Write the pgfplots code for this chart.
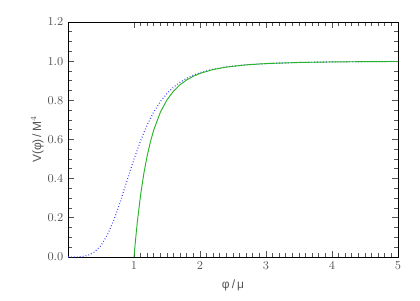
\documentclass[border=0pt]{standalone}
\usepackage{fontspec}
\setmainfont{Liberation Sans}
\usepackage{pgfplots}
\pgfplotsset{compat=1.18}
\definecolor{axgray}{RGB}{85,85,85}
\definecolor{potblue}{RGB}{70,70,255}
\definecolor{potgreen}{RGB}{40,180,40}
\begin{document}
\begin{tikzpicture}
\begin{axis}[
    name=main,
    scale only axis,
    width=247.5pt, height=176.25pt,
    xmin=0, xmax=5, ymin=0, ymax=1.2,
    xtick={1,2,3,4,5},
    ytick={0,0.2,0.4,0.6,0.8,1.0,1.2},
    yticklabel style={/pgf/number format/.cd,fixed,fixed zerofill,precision=1},
    minor x tick num=9,
    minor y tick num=3,
    tick style={axgray, line width=0.6pt},
    tick label style={font=\fontsize{9}{10}\selectfont, text=axgray},
    xlabel={φ\,/\,μ},
    ylabel={V(φ)\,/\,M$^4$},
    label style={font=\fontsize{9}{10}\selectfont, text=axgray},
    xlabel style={yshift=-1pt},
    ylabel style={yshift=-4pt},
]
% dotted curve
\addplot[potblue, line width=0.9pt, dash pattern=on 0.6pt off 1.6pt] coordinates {
(0,0)(0.1,0.0001)(0.2,0.0016)(0.3,0.0080)(0.4,0.0250)(0.5,0.0588)
(0.6,0.1147)(0.7,0.1936)(0.8,0.2906)(0.9,0.3962)(1.0,0.5)
(1.1,0.5942)(1.2,0.6747)(1.3,0.7407)(1.4,0.7935)(1.5,0.8351)
(1.6,0.8676)(1.7,0.8930)(1.8,0.9130)(1.9,0.9287)(2.0,0.9412)(2.2,0.9591)(2.4,0.9708)
(2.7,0.9815)(3.0,0.9878)(3.5,0.9934)(4.0,0.9961)(4.5,0.9976)(5.0,0.9984)
};
% solid curve
\addplot[potgreen, line width=0.7pt] coordinates {
(1.0,0)(1.02,0.0761)(1.05,0.1773)(1.1,0.3170)(1.15,0.4282)
(1.2,0.5177)(1.25,0.5904)(1.3,0.6499)(1.4,0.7397)(1.5,0.8025)
(1.6,0.8474)(1.7,0.8803)(1.8,0.9047)(1.9,0.9232)(2.0,0.9375)(2.2,0.9573)(2.4,0.9699)
(2.7,0.9812)(3.0,0.9877)(3.5,0.9934)(4.0,0.9961)(4.5,0.9976)(5.0,0.9984)
};
\end{axis}
% page frame matching the reference margins
\path (main.south west) ++(-51pt,-32.25pt) rectangle ++(315pt,225pt);
\end{tikzpicture}
\end{document}
